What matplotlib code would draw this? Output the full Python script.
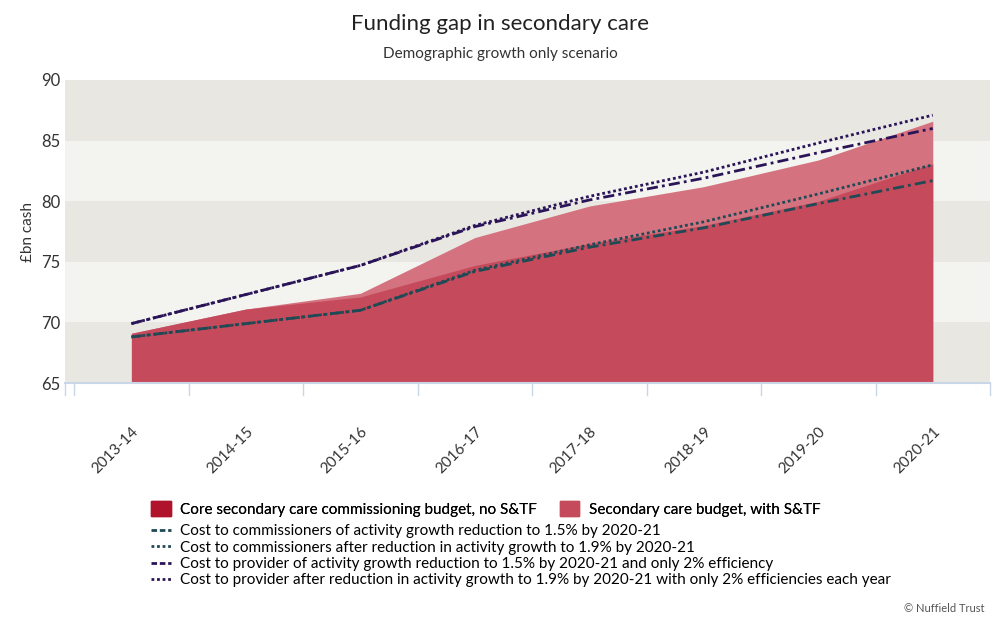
import numpy as np
import matplotlib.pyplot as plt
from matplotlib.patches import Patch
from matplotlib.lines import Line2D

plt.rcParams['font.family'] = ['Lato', 'DejaVu Sans']

years = ["2013-14", "2014-15", "2015-16", "2016-17", "2017-18", "2018-19", "2019-20", "2020-21"]
core = [69.1, 71.1, 72.1, 74.7, 76.5, 78.0, 80.0, 83.1]
with_stf = [69.1, 71.1, 72.4, 77.0, 79.6, 81.2, 83.4, 86.6]
comm_15 = [68.8, 69.9, 71.0, 74.2, 76.2, 77.8, 79.8, 81.7]
comm_19 = [68.8, 69.9, 71.0, 74.3, 76.4, 78.3, 80.6, 83.0]
prov_15 = [69.9, 72.3, 74.7, 77.9, 80.1, 81.9, 84.0, 86.0]
prov_19 = [69.9, 72.3, 74.7, 78.0, 80.4, 82.4, 84.8, 87.1]

x = np.arange(len(years))
fig = plt.figure(figsize=(10, 6.25), dpi=100)
ax = fig.add_axes([0.065, 1 - 383 / 625, 0.925, 303 / 625])

# background bands
for i, lo in enumerate(range(65, 90, 5)):
    ax.axhspan(lo, lo + 5, color="#e9e7e2" if i % 2 == 0 else "#f3f3ef", zorder=0, lw=0)

ax.fill_between(x, 65, with_stf, color="#d4727f", lw=0, zorder=1)
ax.fill_between(x, 65, core, color="#c54b5c", lw=0, zorder=2)

ax.plot(x, comm_15, color="#1f4a55", lw=2, ls=(0, (4, 1.5, 1, 1.5)), zorder=3)
ax.plot(x, comm_19, color="#1f4a55", lw=2, ls=(0, (1, 1)), zorder=3)
ax.plot(x, prov_15, color="#2a1458", lw=2, ls=(0, (4, 1.5, 1, 1.5)), zorder=3)
ax.plot(x, prov_19, color="#2a1458", lw=2, ls=(0, (1, 1)), zorder=3)

ax.set_xlim(-0.58, 7.5)
ax.set_ylim(65, 90)
ax.set_yticks(range(65, 91, 5))
ax.tick_params(axis='y', length=0, labelsize=12, colors="#333333")
ax.set_ylabel("£bn cash", fontsize=11, color="#333333")
ax.set_xticks(x)
ax.set_xticklabels(years, rotation=45, ha="right", rotation_mode="anchor", fontsize=11, color="#333333")
ax.tick_params(axis='x', length=0, pad=30)
for s in ax.spines.values():
    s.set_visible(False)
ax.axhline(65, color="#c8d6e6", lw=1.5, zorder=4, clip_on=False)
for b in np.arange(-0.5, 8, 1.0):
    bx = max(b, -0.58)
    ax.plot([bx, bx], [65, 64.0], color="#c8d6e6", lw=1, clip_on=False)
ax.plot([-0.58, -0.58], [65, 64.0], color="#c8d6e6", lw=1, clip_on=False)

fig.text(0.5, 0.962, "Funding gap in secondary care", ha="center", va="center", fontsize=16, color="#222222")
fig.text(0.5, 0.913, "Demographic growth only scenario", ha="center", va="center", fontsize=11, color="#333333")

h1 = [Patch(color="#b0142c"), Patch(color="#c54b5c")]
l1 = ["Core secondary care commissioning budget, no S&TF", "Secondary care budget, with S&TF"]
leg1 = fig.legend(h1, l1, loc="upper left", bbox_to_anchor=(0.137, 0.22), ncol=2, frameon=False,
                  fontsize=11, handlelength=1.3, handleheight=1.1, columnspacing=1.5, handletextpad=0.6)
h2 = [Line2D([], [], color="#1f4a55", lw=2, ls=(0, (2, 1))),
      Line2D([], [], color="#1f4a55", lw=2, ls=(0, (1, 1))),
      Line2D([], [], color="#2a1458", lw=2, ls=(0, (2, 1))),
      Line2D([], [], color="#2a1458", lw=2, ls=(0, (1, 1)))]
l2 = ["Cost to commissioners of activity growth reduction to 1.5% by 2020-21",
      "Cost to commissioners after reduction in activity growth to 1.9% by 2020-21",
      "Cost to provider of activity growth reduction to 1.5% by 2020-21 and only 2% efficiency",
      "Cost to provider after reduction in activity growth to 1.9% by 2020-21 with only 2% efficiencies each year"]
fig.legend(h2, l2, loc="upper left", bbox_to_anchor=(0.137, 0.183), frameon=False,
           fontsize=11, handlelength=1.3, handletextpad=0.6, labelspacing=0.15)
fig.add_artist(leg1)

fig.text(0.985, 0.02, "© Nuffield Trust", ha="right", fontsize=8, color="#555555")
fig.savefig("out.png", dpi=100, facecolor="white")
